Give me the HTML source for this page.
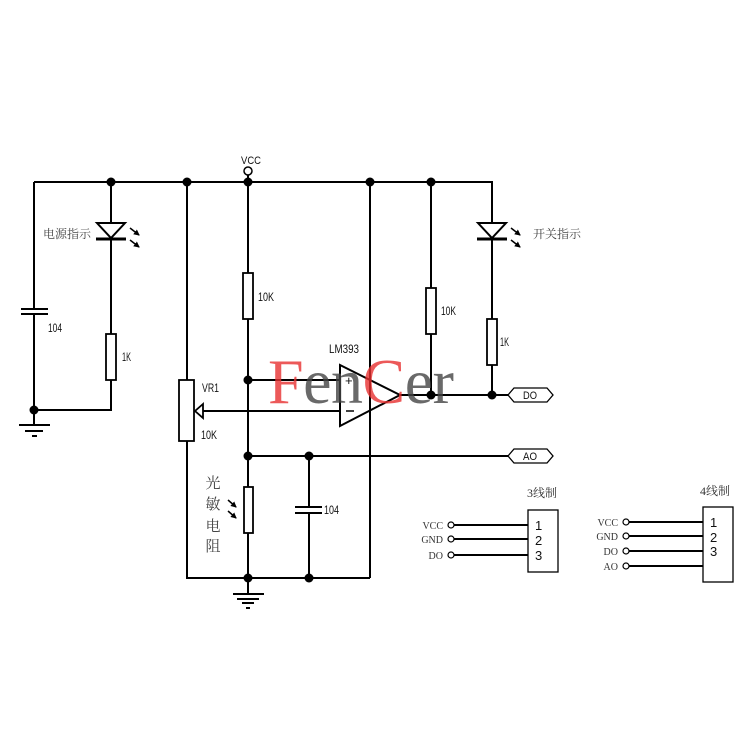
<!DOCTYPE html>
<html><head><meta charset="utf-8"><style>
html,body{margin:0;padding:0;background:#fff;}
svg{display:block;}
.w{stroke:#000;stroke-width:2;fill:none;}
.t{font-family:"Liberation Sans","Noto Sans CJK SC",sans-serif;fill:#111;}
.c{font-family:"Liberation Serif","Noto Serif CJK SC",serif;fill:#444;}
.s{font-family:"Liberation Serif","Noto Serif CJK SC",serif;fill:#333;}
</style></head><body>
<svg width="750" height="750" viewBox="0 0 750 750" xmlns="http://www.w3.org/2000/svg">
<defs>
<marker id="ah" markerWidth="6" markerHeight="6" refX="5" refY="3" orient="auto" markerUnits="userSpaceOnUse"><path d="M0,0 L6,3 L0,6 z" fill="#000"/></marker>
</defs>
<!-- top rail -->
<path class="w" d="M34,182 H492 V223"/>
<!-- VCC -->
<circle cx="248" cy="171" r="4" fill="#fff" stroke="#000" stroke-width="1.5"/>
<text class="t" x="241" y="164" font-size="11" textLength="20" lengthAdjust="spacingAndGlyphs">VCC</text>
<!-- left capacitor -->
<path class="w" d="M34,182 V309 M21,309 H48 M21,314 H48 M34,314 V410 H111 V380"/>
<text class="t" x="48" y="332" font-size="12" textLength="14" lengthAdjust="spacingAndGlyphs">104</text>
<!-- left ground -->
<path class="w" d="M34,410 V425 M19,425 H50 M25,431 H43"/>
<path d="M32,436 H37" stroke="#000" stroke-width="2"/>
<!-- power LED -->
<path class="w" d="M111,182 V239 M111,239 V334"/>
<path d="M97,223 H125 L111,238 Z" fill="#fff" stroke="#000" stroke-width="2"/>
<path d="M96,239 H126" stroke="#000" stroke-width="3"/>
<path d="M130,228 L139,235" stroke="#000" stroke-width="1.5" marker-end="url(#ah)"/>
<path d="M130,240 L139,247" stroke="#000" stroke-width="1.5" marker-end="url(#ah)"/>
<text class="c" x="43" y="238" font-size="12">电源指示</text>
<!-- 1K left -->
<rect x="106" y="334" width="10" height="46" fill="#fff" stroke="#000" stroke-width="1.8"/>
<text class="t" x="122" y="361" font-size="12" textLength="9" lengthAdjust="spacingAndGlyphs">1K</text>
<!-- pot -->
<path class="w" d="M187,182 V380 M187,441 V578 H370"/>
<rect x="179" y="380" width="15" height="61" fill="#fff" stroke="#000" stroke-width="1.8"/>
<path d="M203,404 L195,411 L203,418 Z" fill="#fff" stroke="#000" stroke-width="1.8"/>
<path class="w" d="M203,411 H340"/>
<text class="t" x="202" y="392" font-size="12" textLength="17" lengthAdjust="spacingAndGlyphs">VR1</text>
<text class="t" x="201" y="439" font-size="12" textLength="16" lengthAdjust="spacingAndGlyphs">10K</text>
<!-- middle column -->
<path class="w" d="M248,175 V273 M248,319 V487 M248,533 V594"/>
<rect x="243" y="273" width="10" height="46" fill="#fff" stroke="#000" stroke-width="1.8"/>
<text class="t" x="258" y="301" font-size="12" textLength="16" lengthAdjust="spacingAndGlyphs">10K</text>
<path class="w" d="M248,380 H340"/>
<!-- LDR -->
<rect x="244" y="487" width="9" height="46" fill="#fff" stroke="#000" stroke-width="1.8"/>
<path d="M228,500 L236,507" stroke="#000" stroke-width="1.5" marker-end="url(#ah)"/>
<path d="M228,511 L236,518" stroke="#000" stroke-width="1.5" marker-end="url(#ah)"/>
<text class="c" x="213" y="488" font-size="15" text-anchor="middle">光</text>
<text class="c" x="213" y="509" font-size="15" text-anchor="middle">敏</text>
<text class="c" x="213" y="531" font-size="15" text-anchor="middle">电</text>
<text class="c" x="213" y="551" font-size="15" text-anchor="middle">阻</text>
<!-- bottom ground -->
<path class="w" d="M233,594 H264 M237,599 H259 M242,603 H254"/>
<path d="M246,608 H250" stroke="#000" stroke-width="2"/>
<!-- AO line and cap -->
<path class="w" d="M248,456 H508 M309,456 V507 M309,513 V578"/>
<path class="w" d="M295,507 H322 M295,513 H322"/>
<text class="t" x="324" y="514" font-size="12" textLength="15" lengthAdjust="spacingAndGlyphs">104</text>
<!-- x=370 -->
<path class="w" d="M370,182 V578"/>
<!-- opamp -->
<path d="M340,365 L400,395 L340,426 Z" fill="none" stroke="#000" stroke-width="2"/>
<text class="t" x="345" y="385" font-size="13">+</text>
<path d="M346,411 H354" stroke="#000" stroke-width="1.5"/>
<text class="t" x="329" y="353" font-size="12" textLength="30" lengthAdjust="spacingAndGlyphs">LM393</text>
<path class="w" d="M400,395 H508"/>
<!-- right 10K -->
<path class="w" d="M431,182 V288 M431,334 V395"/>
<rect x="426" y="288" width="10" height="46" fill="#fff" stroke="#000" stroke-width="1.8"/>
<text class="t" x="441" y="315" font-size="12" textLength="15" lengthAdjust="spacingAndGlyphs">10K</text>
<!-- switch LED -->
<path class="w" d="M492,239 V319 M492,365 V395"/>
<path d="M478,223 H506 L492,238 Z" fill="#fff" stroke="#000" stroke-width="2"/>
<path d="M477,239 H507" stroke="#000" stroke-width="3"/>
<path d="M511,228 L520,235" stroke="#000" stroke-width="1.5" marker-end="url(#ah)"/>
<path d="M511,240 L520,247" stroke="#000" stroke-width="1.5" marker-end="url(#ah)"/>
<text class="c" x="533" y="238" font-size="12">开关指示</text>
<rect x="487" y="319" width="10" height="46" fill="#fff" stroke="#000" stroke-width="1.8"/>
<text class="t" x="500" y="346" font-size="12" textLength="9" lengthAdjust="spacingAndGlyphs">1K</text>
<!-- tags -->
<path d="M508,395 L514,388 H547 L553,395 L547,402 H514 Z" fill="#fff" stroke="#000" stroke-width="1.3"/>
<text class="t" x="523" y="399" font-size="11" textLength="14" lengthAdjust="spacingAndGlyphs">DO</text>
<path d="M508,456 L514,449 H547 L553,456 L547,463 H514 Z" fill="#fff" stroke="#000" stroke-width="1.3"/>
<text class="t" x="523" y="460" font-size="11" textLength="14" lengthAdjust="spacingAndGlyphs">AO</text>
<!-- dots -->
<g fill="#000">
<circle cx="111" cy="182" r="4.5"/><circle cx="187" cy="182" r="4.5"/><circle cx="248" cy="182" r="4.5"/>
<circle cx="370" cy="182" r="4.5"/><circle cx="431" cy="182" r="4.5"/><circle cx="34" cy="410" r="4.5"/>
<circle cx="248" cy="380" r="4.5"/><circle cx="431" cy="395" r="4.5"/><circle cx="492" cy="395" r="4.5"/>
<circle cx="248" cy="456" r="4.5"/><circle cx="309" cy="456" r="4.5"/><circle cx="248" cy="578" r="4.5"/>
<circle cx="309" cy="578" r="4.5"/>
</g>
<!-- watermark -->
<text x="268" y="403" font-family="'Liberation Serif',serif" font-size="64" letter-spacing="-0.5" opacity="0.8"><tspan fill="#e83030">F</tspan><tspan fill="#444">en</tspan><tspan fill="#e83030">C</tspan><tspan fill="#444">er</tspan></text>
<!-- 3-wire -->
<text class="s" x="527" y="497" font-size="12" fill="#444">3线制</text>
<rect x="528" y="510" width="30" height="62" fill="#fff" stroke="#000" stroke-width="1.3"/>
<path d="M454,525 H528 M454,539 H528 M454,555 H528" stroke="#000" stroke-width="2"/>
<g fill="#fff" stroke="#000" stroke-width="1.2">
<circle cx="451" cy="525" r="3"/><circle cx="451" cy="539" r="3"/><circle cx="451" cy="555" r="3"/>
</g>
<text class="s" x="443" y="529" font-size="10" text-anchor="end">VCC</text>
<text class="s" x="443" y="543" font-size="10" text-anchor="end">GND</text>
<text class="s" x="443" y="559" font-size="10" text-anchor="end">DO</text>
<text class="t" x="535" y="530" font-size="13">1</text>
<text class="t" x="535" y="545" font-size="13">2</text>
<text class="t" x="535" y="560" font-size="13">3</text>
<!-- 4-wire -->
<text class="s" x="700" y="495" font-size="12" fill="#444">4线制</text>
<rect x="703" y="507" width="30" height="75" fill="#fff" stroke="#000" stroke-width="1.3"/>
<path d="M629,522 H703 M629,536 H703 M629,551 H703 M629,566 H703" stroke="#000" stroke-width="2"/>
<g fill="#fff" stroke="#000" stroke-width="1.2">
<circle cx="626" cy="522" r="3"/><circle cx="626" cy="536" r="3"/><circle cx="626" cy="551" r="3"/><circle cx="626" cy="566" r="3"/>
</g>
<text class="s" x="618" y="526" font-size="10" text-anchor="end">VCC</text>
<text class="s" x="618" y="540" font-size="10" text-anchor="end">GND</text>
<text class="s" x="618" y="555" font-size="10" text-anchor="end">DO</text>
<text class="s" x="618" y="570" font-size="10" text-anchor="end">AO</text>
<text class="t" x="710" y="527" font-size="13">1</text>
<text class="t" x="710" y="542" font-size="13">2</text>
<text class="t" x="710" y="556" font-size="13">3</text>
</svg>
</body></html>
